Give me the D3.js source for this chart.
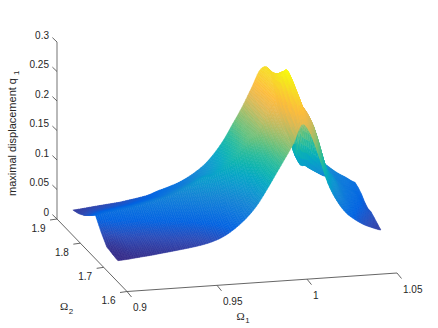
<!DOCTYPE html>
<html><head><meta charset="utf-8">
<script src="https://cdn.jsdelivr.net/npm/d3@7"></script>
<style>html,body{margin:0;padding:0;background:#fff}svg{display:block}text{font-family:"Liberation Sans",Arial,sans-serif;fill:#262626}</style>
</head><body><svg id="c" width="438" height="328"></svg>
<script>
const omega1Ticks=[0.9,0.95,1,1.05];
const omega2Ticks=[1.6,1.7,1.8,1.9];
const zTicks=[0,0.05,0.1,0.15,0.2,0.25,0.3];
const zTickLabels=["0","0.05","0.1","0.15","0.2","0.25","0.3"];
const omega1Values=[0.9,0.905,0.91,0.915,0.92,0.925,0.93,0.935,0.94,0.945,0.95,0.955,0.96,0.965,0.97,0.975,0.98,0.985,0.99,0.995,1,1.005,1.01,1.015,1.02,1.025,1.03,1.035,1.04,1.045,1.05];
const omega2Front=[1.639,1.64,1.641,1.642,1.643,1.644,1.645,1.646,1.647,1.648,1.649,1.65,1.651,1.652,1.653,1.654,1.655,1.656,1.657,1.658,1.659,1.66,1.661,1.662,1.663,1.664,1.665,1.666,1.667,1.668,1.669];
const omega2Back=[1.832,1.83,1.829,1.827,1.825,1.823,1.822,1.82,1.818,1.816,1.815,1.813,1.811,1.81,1.808,1.806,1.804,1.803,1.801,1.799,1.797,1.796,1.794,1.792,1.79,1.789,1.787,1.785,1.784,1.782,1.78];
const displacement=[
[.0363,.0377,.0402,.0552,.0742,.0634,.0536,.047,.043],
[.0368,.0385,.0445,.0605,.0775,.068,.0588,.0511,.0453],
[.0379,.043,.0514,.064,.08,.0703,.0612,.0534,.0475],
[.039,.0442,.0529,.066,.0825,.0728,.0637,.0559,.05],
[.04,.0454,.0544,.0679,.085,.0752,.0661,.0583,.0524],
[.0415,.0476,.0568,.0707,.0883,.0783,.0689,.0609,.0549],
[.0428,.0497,.0593,.0736,.0917,.0816,.0722,.0641,.058],
[.0443,.0514,.0615,.0766,.0958,.0855,.0759,.0677,.0615],
[.0458,.0527,.0635,.0796,.1,.0897,.0802,.072,.0658],
[.0476,.0546,.0663,.0838,.106,.0961,.0869,.0789,.0725],
[.05,.0575,.0701,.0889,.1127,.1023,.0926,.0842,.0778],
[.0537,.0623,.0755,.0953,.1203,.1095,.0994,.0907,.0842],
[.0592,.0681,.0818,.1025,.1286,.118,.108,.0996,.0925],
[.0676,.0751,.0876,.1063,.13,.1223,.115,.1088,.1025],
[.0785,.087,.099,.1171,.14,.1329,.1263,.1206,.1155],
[.092,.0983,.1105,.1288,.152,.1468,.1419,.1377,.1335],
[.1095,.1131,.1256,.1443,.168,.165,.1622,.16,.156],
[.132,.1381,.1492,.1659,.187,.1863,.1857,.1851,.183],
[.156,.1619,.1701,.1824,.198,.2,.203,.206,.2115],
[.18,.1854,.196,.2119,.232,.235,.238,.241,.244],
[.205,.2116,.2226,.2391,.26,.264,.268,.272,.276],
[.237,.27,.28,.294,.302,.29,.281,.274,.27],
[.219,.236,.25,.2544,.263,.272,.27,.24,.197],
[.177,.2007,.2229,.2297,.228,.1995,.14,.1434,.1624],
[.131,.1519,.1725,.191,.2034,.1817,.1227,.1263,.145],
[.101,.1125,.1271,.138,.14,.1556,.1127,.1122,.1329],
[.08,.0916,.104,.1147,.1186,.1192,.1044,.1084,.1224],
[.067,.0751,.0842,.09,.0958,.1015,.1022,.1045,.11],
[.057,.0619,.0695,.0771,.083,.0871,.0897,.0939,.098],
[.05,.0547,.0598,.0659,.0719,.078,.0805,.0849,.089],
[.0446,.049,.0536,.058,.0583,.0636,.0715,.0768,.08]
];
const parula=["#352a87","#2c4cb8","#0363e1","#0d75dc","#1485d4","#0e97cf","#06a7c4","#0fb4ae","#2dbc9a","#5fc07f","#95bf6e","#c4bb5f","#e8b950","#fdbc3c","#f9d030","#f5e71e","#f9fb0e"];

const svg=d3.select("#c");
const originX=127, originY=291.5;
const xFromO1=d3.scaleLinear().domain([0.9,1.05]).range([0,270]);
const xFromO2=d3.scaleLinear().domain([1.6,1.9]).range([0,-70]);
const yFromO1=d3.scaleLinear().domain([0.9,1.05]).range([0,-18.5]);
const yFromO2=d3.scaleLinear().domain([1.6,1.9]).range([0,-72.5]);
const yFromZ=d3.scaleLinear().domain([0,0.3]).range([0,-177]);
const project=(a,b,z)=>[originX+xFromO1(a)+xFromO2(b),originY+yFromO1(a)+yFromO2(b)+yFromZ(z)];

const allZ=displacement.flat();
const colour=d3.scaleLinear()
  .domain(d3.range(parula.length).map(i=>d3.min(allZ)+(d3.max(allZ)-d3.min(allZ))*i/(parula.length-1)))
  .range(parula).interpolate(d3.interpolateRgb).clamp(true);

/* axes */
const axisColour="#555";
const ax=svg.append("g");
const seg=(p,q,w,col)=>ax.append("line").attr("x1",p[0]).attr("y1",p[1]).attr("x2",q[0]).attr("y2",q[1]).attr("stroke",col||axisColour).attr("stroke-width",w||0.9);
seg(project(0.9,1.6,0),project(1.05,1.6,0));
seg(project(0.9,1.6,0),project(0.9,1.9,0));
seg(project(0.9,1.9,0),project(0.9,1.9,0.3),1.6,"#a8a8a8");
zTicks.forEach((z,i)=>{
  const p=project(0.9,1.9,z);
  seg(p,[p[0]-4.6,p[1]-4.4]);
  ax.append("text").attr("x",p[0]-8).attr("y",p[1]-3.2).attr("text-anchor","end").attr("font-size",10).text(zTickLabels[i]);
});
omega2Ticks.forEach(b=>{
  const p=project(0.9,b,0);
  seg(p,[p[0]-7,p[1]+1]);
  ax.append("text").attr("x",p[0]-18.5).attr("y",p[1]+12.5).attr("text-anchor","middle").attr("font-size",10).text(b);
});
omega1Ticks.forEach(a=>{
  const p=project(a,1.6,0);
  seg(p,[p[0]+4.5,p[1]+5.5]);
  ax.append("text").attr("x",p[0]+6).attr("y",p[1]+19.5).attr("text-anchor","start").attr("font-size",10).text(a);
});
const omegaLabel=(x,y,sub)=>{
  const t=ax.append("text").attr("x",x).attr("y",y);
  t.append("tspan").attr("font-family","Liberation Serif").attr("font-size",11).text("Ω");
  t.append("tspan").attr("font-size",8).attr("dy",3.5).attr("dx",0.5).text(sub);
};
omegaLabel(60,310,"2");
omegaLabel(236.5,319.5,"1");
const yl=ax.append("text").attr("transform","translate(16,196) rotate(-90)").attr("font-size",11);
yl.append("tspan").text("maximal displacement q");
yl.append("tspan").attr("font-size",8).attr("dy",3).attr("dx",3).text("1");

/* surface: back rows first, far columns first; heights smoothed along Omega1 for shading */
const rows=displacement[0].length, cols=omega1Values.length;
const rowFraction=d3.scaleLinear().domain([0,rows-1]).range([0,1]);
const lerp=(a,b,t)=>a+(b-a)*t;
const cr=(p0,p1,p2,p3,t)=>0.5*(2*p1+(p2-p0)*t+(2*p0-5*p1+4*p2-p3)*t*t+(3*p1-p0-3*p2+p3)*t*t*t);
const zAtCol=(c,r,u)=>{
  const g=i=>displacement[Math.max(0,Math.min(cols-1,i))][r];
  return cr(g(c-1),g(c),g(c+1),g(c+2),u);
};
const sample=(c,r,u,v)=>{
  const a=lerp(omega1Values[c],omega1Values[c+1],u);
  const f=lerp(omega2Front[c],omega2Front[c+1],u), b=lerp(omega2Back[c],omega2Back[c+1],u);
  const t=lerp(rowFraction(r),rowFraction(r+1),v);
  const z=lerp(zAtCol(c,r,u),zAtCol(c,r+1,u),v);
  return {p:project(a,lerp(f,b,t),z),z};
};
const stepsU=5, stepsV=5;
const polys=[];
for(let r=rows-2;r>=0;r--){
  for(let c=cols-2;c>=0;c--){
    for(let j=stepsV-1;j>=0;j--)for(let i=stepsU-1;i>=0;i--){
      const u0=i/stepsU,u1=(i+1)/stepsU,v0=j/stepsV,v1=(j+1)/stepsV;
      const q=[sample(c,r,u0,v0),sample(c,r,u1,v0),sample(c,r,u1,v1),sample(c,r,u0,v1)];
      polys.push({pts:q.map(s=>s.p),z:d3.mean(q,s=>s.z)});
    }
  }
}
svg.append("g").selectAll("path").data(polys).join("path")
  .attr("d",d=>"M"+d.pts.map(p=>p.map(v=>v.toFixed(2)).join(",")).join("L")+"Z")
  .attr("fill",d=>colour(d.z)).attr("stroke",d=>colour(d.z)).attr("stroke-width",0.5).attr("stroke-linejoin","round");
</script></body></html>
